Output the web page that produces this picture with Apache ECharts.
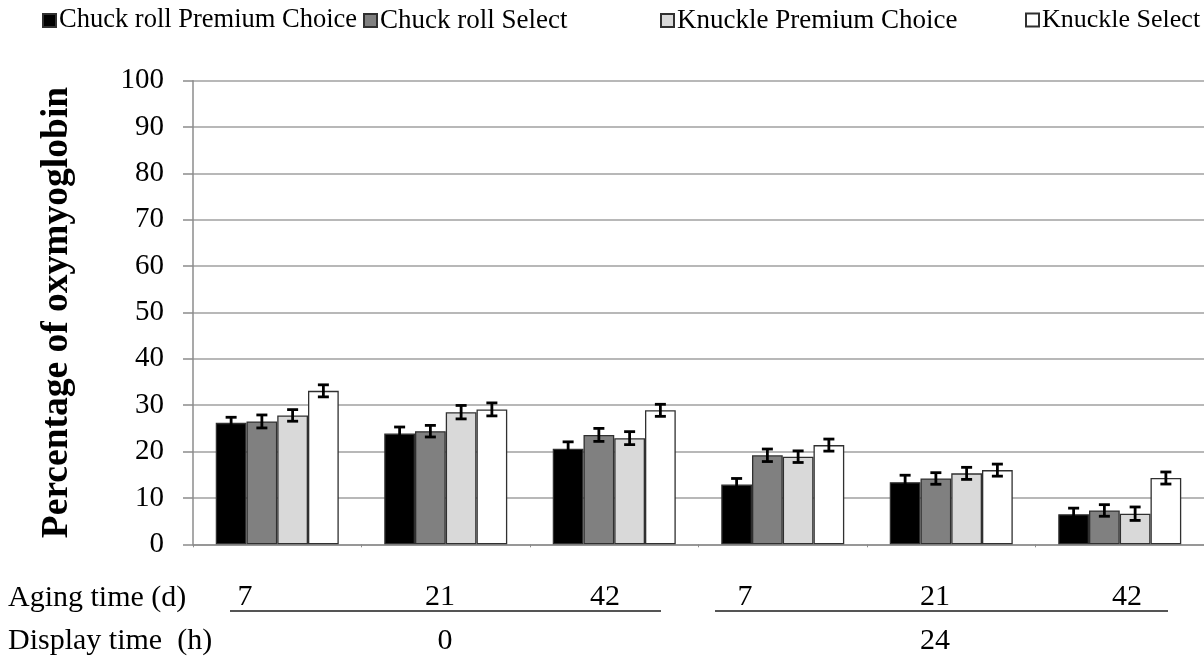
<!DOCTYPE html>
<html>
<head>
<meta charset="utf-8">
<script src="https://cdn.jsdelivr.net/npm/echarts@6/dist/echarts.min.js"></script>
<style>
  html, body { margin: 0; padding: 0; background: #fff; }
  #chart { width: 1204px; height: 661px; }
</style>
</head>
<body>
<div id="chart"></div>
<script>
// Aging time (days) per group, and display time (hours) for each half
const agingLabels = ['7', '21', '42', '7', '21', '42'];
const displayLabels = ['0', '24'];

const seriesNames = ['Chuck roll Premium Choice', 'Chuck roll Select', 'Knuckle Premium Choice', 'Knuckle Select'];

// Oxymyoglobin (%) means and standard errors
const chuckPremium      = [26.2, 23.9, 20.6, 12.9, 13.4, 6.5];
const chuckPremiumErr   = [1.2, 1.4, 1.5, 1.3, 1.5, 1.3];
const chuckSelect       = [26.5, 24.4, 23.6, 19.2, 14.2, 7.3];
const chuckSelectErr    = [1.4, 1.25, 1.4, 1.35, 1.25, 1.25];
const knucklePremium    = [27.8, 28.5, 22.9, 18.9, 15.3, 6.6];
const knucklePremiumErr = [1.25, 1.45, 1.4, 1.25, 1.3, 1.45];
const knuckleSelect     = [33.1, 29.1, 28.9, 21.4, 16.0, 14.3];
const knuckleSelectErr  = [1.3, 1.4, 1.3, 1.3, 1.3, 1.3];

const yMin = 0, yMax = 100, yStep = 10;

const values = [chuckPremium, chuckSelect, knucklePremium, knuckleSelect];
const errors = [chuckPremiumErr, chuckSelectErr, knucklePremiumErr, knuckleSelectErr];
const fills = ['#000000', '#808080', '#d9d9d9', '#ffffff'];

const SERIF = '"Liberation Serif", "Times New Roman", serif';
const CAT_GAP = 0.27;

const chart = echarts.init(document.getElementById('chart'), null, { renderer: 'canvas' });

const barSeries = values.map((v, i) => ({
  name: seriesNames[i],
  type: 'bar',
  data: v,
  barGap: '0%',
  barCategoryGap: (CAT_GAP * 100) + '%',
  itemStyle: { color: fills[i], borderColor: '#303030', borderWidth: 1.3 },
  emphasis: { disabled: true }
}));

// Error bars drawn beside each bar of the group
const errSeries = values.map((v, idx) => ({
  name: 'err-' + idx,
  type: 'custom',
  silent: true,
  z: 5,
  encode: { x: 0, y: 1 },
  data: v.map((val, i) => [i, val, errors[idx][i]]),
  renderItem(params, api) {
    const c = api.value(0), val = api.value(1), e = api.value(2);
    const band = api.size([1, 0])[0];
    const bw = band * (1 - CAT_GAP) / 4;
    const dx = (idx - 1.5) * bw;
    const hi = api.coord([c, val + e]);
    const lo = api.coord([c, val - e]);
    const x = hi[0] + dx;
    const cap = 5.5;
    const style = { stroke: '#000', lineWidth: 2.8, fill: null };
    return {
      type: 'group',
      children: [
        { type: 'line', shape: { x1: x, y1: hi[1], x2: x, y2: lo[1] }, style },
        { type: 'line', shape: { x1: x - cap, y1: hi[1], x2: x + cap, y2: hi[1] }, style },
        { type: 'line', shape: { x1: x - cap, y1: lo[1], x2: x + cap, y2: lo[1] }, style }
      ]
    };
  }
}));

const legendLefts = [42, 363, 660, 1025];
const legendSizes = [26.5, 27, 27, 26];
const legends = seriesNames.map((n, i) => ({
  data: [n],
  left: legendLefts[i],
  top: 7,
  padding: 0,
  icon: 'rect',
  itemWidth: 13,
  itemHeight: 13,
  itemGap: 0,
  selectedMode: false,
  textStyle: { fontFamily: SERIF, fontSize: legendSizes[i], color: '#000', padding: [0, 0, 0, -2] }
}));

// Aging / display time table under the axis
const agingX = [245, 440, 605, 745, 935, 1127];
const displayX = [445, 935];
const tableText = (text, x, y, align) => ({
  type: 'text', x, y,
  style: { text, fontFamily: SERIF, fontSize: 30, fill: '#000', align, verticalAlign: 'middle' }
});
const graphics = [
  tableText('Aging time (d)', 8, 598, 'left'),
  tableText('Display time  (h)', 8, 641, 'left'),
  ...agingLabels.map((t, i) => tableText(t, agingX[i], 597, 'center')),
  ...displayLabels.map((t, i) => tableText(t, displayX[i], 641, 'center')),
  { type: 'line', shape: { x1: 230, y1: 611, x2: 661, y2: 611 }, style: { stroke: '#555', lineWidth: 2 } },
  { type: 'line', shape: { x1: 715, y1: 611, x2: 1168, y2: 611 }, style: { stroke: '#555', lineWidth: 2 } }
];

chart.setOption({
  animation: false,
  backgroundColor: '#fff',
  legend: legends,
  grid: { left: 193, right: -2, top: 80.7, bottom: 116.7, containLabel: false },
  xAxis: {
    type: 'category',
    data: agingLabels,
    axisLine: { lineStyle: { color: '#8c8c8c', width: 1.5 } },
    axisTick: { show: true, length: 3, lineStyle: { color: '#8c8c8c' } },
    axisLabel: { show: false },
    splitLine: { show: false }
  },
  yAxis: {
    type: 'value',
    min: yMin, max: yMax, interval: yStep,
    name: 'Percentage of oxymyoglobin',
    nameLocation: 'middle',
    nameRotate: 90,
    nameGap: 117,
    nameTextStyle: { fontFamily: SERIF, fontSize: 37.5, fontWeight: 'bold', color: '#000' },
    axisLine: { show: true, lineStyle: { color: '#8c8c8c', width: 1.5 } },
    axisTick: { show: true, inside: false, length: 10, lineStyle: { color: '#8c8c8c', width: 1.5 } },
    axisLabel: { fontFamily: SERIF, fontSize: 29, color: '#000', margin: 29 },
    splitLine: { lineStyle: { color: '#a0a0a0', width: 1.5 } }
  },
  graphic: graphics,
  series: [...barSeries, ...errSeries]
});
</script>
</body>
</html>
